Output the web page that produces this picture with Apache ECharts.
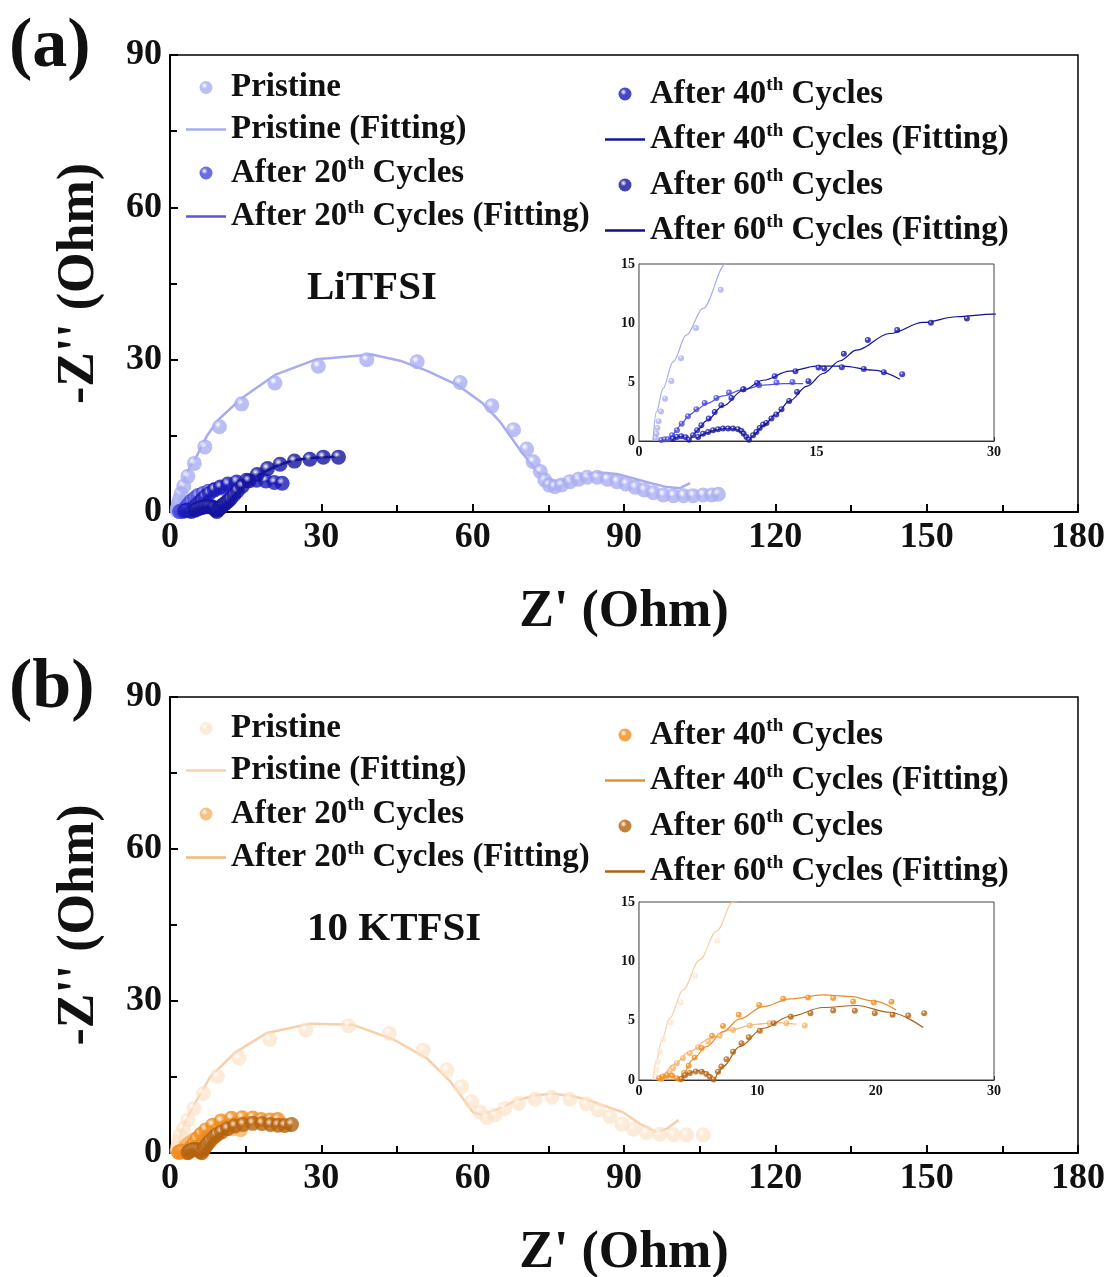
<!DOCTYPE html>
<html><head><meta charset="utf-8">
<script src="https://cdn.jsdelivr.net/npm/echarts@6/dist/echarts.min.js"></script>
<style>html,body{margin:0;padding:0;background:#fff}#c{width:1114px;height:1277px}</style>
</head><body><div id="c"></div><script>
// ---------------- DATA ----------------
const SERIES_NAMES = ['Pristine', 'After 20th Cycles', 'After 40th Cycles', 'After 60th Cycles'];
const PANEL_LABELS = ['(a)', '(b)'];
const ELECTROLYTES = ['LiTFSI', '10 KTFSI'];
const MAIN_X_TICKS = [0, 30, 60, 90, 120, 150, 180];
const MAIN_Y_TICKS = [0, 30, 60, 90];

// Panel (a) LiTFSI - measured points
const A_PRISTINE = [[1.41,0.25],[1.47,0.62],[1.55,1.10],[1.66,1.67],[1.86,2.49],[2.2,3.59],[2.73,5.09],[3.55,7.02],[4.82,9.57],[6.91,12.82],[9.8,16.8],[14.2,21.3],[20.8,25.4],[29.4,28.7],[39.0,30.0],[49.0,29.6],[57.5,25.5],[63.8,20.9],[68.1,16.2],[70.7,12.4],[72.0,9.9],[73.4,8.0],[74.3,6.3],[75.2,5.3],[76.3,5.0],[77.6,5.33],[79.3,5.98],[81.0,6.45],[82.7,6.84],[84.7,6.84],[86.7,6.45],[88.6,5.98],[90.4,5.53],[92.2,4.87],[94.0,4.34],[95.8,3.81],[97.8,3.36],[99.8,3.22],[101.8,3.22],[103.7,3.22],[105.7,3.36],[107.4,3.36],[108.7,3.49]];
const A_C20 = [[1.89,0.08],[2.17,0.14],[2.45,0.14],[2.79,0.48],[3.21,0.91],[3.61,1.47],[4.14,2.09],[4.85,2.69],[5.55,3.23],[6.54,3.65],[7.61,4.10],[8.85,4.39],[10.15,4.73],[11.62,4.95],[12.97,5.01]];
const A_C40 = [[2.88,0.2],[3.21,0.34],[3.58,0.40],[3.95,0.31],[4.23,0.11],[4.57,0.48],[4.91,0.91],[5.27,1.33],[5.89,1.90],[6.40,2.46],[6.96,3.03],[7.81,3.65],[8.80,4.39],[9.98,4.92],[11.47,5.49],[13.22,5.92],[15.17,6.23],[17.14,6.26],[19.0,6.11],[20.69,5.83],[22.24,5.66]];
const A_C60 = [[5.0,0.34],[5.41,0.62],[5.84,0.76],[6.26,0.91],[6.68,0.99],[7.10,1.05],[7.53,1.05],[7.95,1.05],[8.37,0.99],[8.66,0.85],[8.85,0.62],[9.08,0.34],[9.30,0.11],[9.64,0.48],[9.92,0.76],[10.2,1.1],[10.49,1.39],[10.77,1.53],[11.19,1.9],[11.6,2.24],[12.04,2.69],[12.69,3.40],[13.36,4.16],[14.32,5.07],[15.65,6.14],[17.31,7.39],[19.34,8.55],[21.82,9.40],[24.67,10.02],[27.71,10.39],[30.4,10.8],[33.4,10.8]];
// Panel (a) fitting curves
const A_PRISTINE_FIT = [[1.18,0],[1.47,2.46],[2.03,4.44],[2.88,6.71],[4.0,8.97],[5.41,11.24],[7.33,15.0],[9.6,18.2],[14.2,22.4],[20.8,27.0],[29.1,30.1],[40,31.0],[45.6,29.8],[51,27.8],[57,25.0],[62,21.4],[65.4,17.8],[69.4,12.2],[72.0,8.9],[74.0,6.6],[76.0,6.0],[78.6,6.3],[81.9,7.3],[85.2,7.8],[88.6,7.5],[91.9,6.6],[95.2,5.7],[98.5,4.9],[101.1,4.7],[103.1,5.7]];
const A_C20_FIT = [[1.85,0],[2.2,0.15],[2.6,0.2],[2.85,0.5],[3.2,1.0],[3.6,1.5],[4.29,2.24],[5.0,2.75],[5.69,3.17],[7.1,3.82],[8.8,4.36],[10.49,4.73],[12.18,4.87],[13.87,4.87]];
const A_C40_FIT = [[2.8,0],[3.0,0.25],[3.4,0.4],[3.8,0.38],[4.2,0.15],[4.35,0.2],[4.6,0.55],[5.0,1.0],[5.69,1.70],[7.10,2.97],[8.8,4.30],[10.49,5.15],[12.74,5.92],[15.0,6.34],[17.25,6.34],[19.79,6.0],[22.05,5.24]];
const A_C60_FIT = [[4.85,0.2],[5.2,0.45],[5.7,0.68],[6.4,0.92],[7.1,1.05],[7.8,1.07],[8.4,0.97],[8.94,0.48],[9.3,0.11],[9.7,0.55],[10.49,1.27],[11.6,2.3],[12.74,3.40],[14.2,4.65],[15.56,5.72],[17.0,6.8],[18.38,7.70],[21.2,9.11],[24.02,10.05],[26.84,10.53],[29.94,10.76],[33.5,10.9]];

// Panel (b) 10 KTFSI - measured points
const B_PRISTINE = [[1.38,0.28],[1.47,0.84],[1.61,1.55],[1.75,2.39],[2.03,3.43],[2.68,4.84],[3.52,6.53],[4.74,8.78],[6.63,11.74],[9.4,15.1],[13.7,18.7],[19.8,22.4],[26.9,24.3],[35.4,25.1],[43.5,23.6],[50.2,20.3],[54.9,16.4],[57.8,13.1],[59.8,10.1],[61.5,8.1],[62.8,7.0],[64.4,7.5],[66.4,8.8],[69.1,9.8],[72.4,10.6],[75.7,11.0],[79.3,10.6],[82.6,9.7],[84.9,8.5],[87.2,7.2],[89.6,5.7],[91.9,4.7],[94.5,4.0],[97.1,3.7],[99.8,3.6],[102.4,3.6],[105.7,3.6]];
const B_C20 = [[1.89,0.08],[2.31,0.28],[2.59,0.56],[2.88,0.99],[3.21,1.41],[3.72,1.83],[4.29,2.25],[4.99,2.76],[5.84,3.24],[6.82,3.72],[7.95,4.22],[9.36,4.59],[11.05,4.78],[12.46,4.78],[14.01,4.59]];
const B_C40 = [[1.7,0.15],[2.0,0.3],[2.4,0.4],[2.8,0.35],[3.2,0.15],[3.5,0.05],[3.8,0.6],[4.2,1.2],[4.7,1.9],[5.3,2.7],[6.17,3.72],[7.1,4.56],[8.43,5.49],[10.15,6.33],[12.18,6.84],[14.29,6.95],[16.41,6.9],[18.1,6.61],[19.85,6.53],[21.34,6.59]];
const B_C60 = [[3.6,0.1],[3.9,0.4],[4.3,0.6],[4.8,0.72],[5.3,0.7],[5.7,0.5],[6.0,0.25],[6.3,0.05],[6.68,0.7],[6.96,1.13],[7.39,1.75],[7.95,2.39],[8.66,3.1],[9.28,3.6],[10.21,4.14],[11.39,4.78],[12.83,5.32],[14.49,5.63],[16.41,5.85],[18.24,5.83],[19.93,5.63],[21.43,5.49],[22.75,5.43],[24.1,5.63]];
// Panel (b) fitting curves
const B_PRISTINE_FIT = [[1.18,0],[1.47,1.55],[1.89,3.24],[2.59,5.21],[3.72,7.6],[5.13,10.13],[6.54,12.52],[7.95,15.0],[12.9,19.8],[19.2,23.7],[27.8,25.5],[36.3,25.3],[44.3,22.4],[50.9,18.7],[55.5,14.2],[60.1,8.0],[62.1,7.5],[65.4,8.8],[68.7,10.4],[72.7,11.4],[76.0,11.7],[80.0,11.2],[83.9,10.1],[89.9,8.0],[93.2,5.7],[96.5,4.1],[98.5,4.8],[100.8,6.5]];
const B_C20_FIT = [[1.47,0],[2.0,0.4],[2.88,1.27],[4.29,2.39],[5.98,3.52],[7.67,4.22],[9.92,4.7],[11.62,4.84],[13.31,4.7]];
const B_C40_FIT = [[1.6,0],[2.0,0.3],[2.5,0.42],[3.0,0.3],[3.4,0.05],[3.8,0.6],[4.5,1.7],[5.7,2.81],[7.1,4.08],[8.51,5.15],[10.49,6.19],[12.74,6.84],[15.56,7.18],[17.82,7.04],[19.79,6.67],[21.71,5.91]];
const B_C60_FIT = [[3.5,0],[3.9,0.4],[4.29,0.62],[4.8,0.78],[5.41,0.75],[5.9,0.45],[6.32,0],[6.7,0.6],[7.1,1.13],[8.51,2.81],[10.49,4.36],[12.74,5.35],[15.56,6.11],[18.38,6.28],[21.2,5.71],[24.02,4.42]];

// ---------------- STYLE ----------------
const FONT = 'Liberation Serif';
const A_DOT = ['#a9aef2', '#4848dc', '#1a1ab8', '#13139e'];
const A_LINE = ['#a8acef', '#5656e0', '#16169a', '#10108a'];
const B_DOT = ['rgba(251,224,196,0.8)', '#f6b265', '#f08c1e', '#b5620e'];
const B_LINE = ['#f5d0aa', '#f2b878', '#e98f2e', '#a86418'];

function sphere(c) {
  return {type: 'radial', x: 0.38, y: 0.35, r: 0.7,
    colorStops: [{offset: 0, color: '#ffffff'}, {offset: 0.35, color: c}, {offset: 1, color: c}]};
}

const panels = [
  {key: 'a', dots: [A_PRISTINE, A_C20, A_C40, A_C60], fits: [A_PRISTINE_FIT, A_C20_FIT, A_C40_FIT, A_C60_FIT], dc: A_DOT, lc: A_LINE, main: 0, inset: 1},
  {key: 'b', dots: [B_PRISTINE, B_C20, B_C40, B_C60], fits: [B_PRISTINE_FIT, B_C20_FIT, B_C40_FIT, B_C60_FIT], dc: B_DOT, lc: B_LINE, main: 2, inset: 3}
];

const series = [];
panels.forEach(p => {
  for (let i = 0; i < 4; i++) {
    series.push({name: p.key + '-' + SERIES_NAMES[i], type: 'scatter', xAxisIndex: p.main, yAxisIndex: p.main,
      data: p.dots[i], symbolSize: 15, itemStyle: {color: sphere(p.dc[i])}, z: 3});
    series.push({name: p.key + '-' + SERIES_NAMES[i] + ' (Fitting)', type: 'line', xAxisIndex: p.main, yAxisIndex: p.main,
      data: p.fits[i], smooth: false, symbol: 'none',
      lineStyle: {color: p.lc[i], width: 2.5}, itemStyle: {color: p.lc[i]}, z: 3});
  }
  for (let i = 0; i < 4; i++) {
    series.push({name: p.key + 'i-' + SERIES_NAMES[i], type: 'scatter', xAxisIndex: p.inset, yAxisIndex: p.inset,
      data: p.dots[i], symbolSize: 6, itemStyle: {color: sphere(p.dc[i])}, z: 5});
    series.push({name: p.key + 'i-' + SERIES_NAMES[i] + ' (Fitting)', type: 'line', xAxisIndex: p.inset, yAxisIndex: p.inset,
      data: p.fits[i], smooth: 0.35, smoothMonotone: 'x', symbol: 'none',
      lineStyle: {color: p.lc[i], width: 1.2}, itemStyle: {color: p.lc[i]}, z: 5});
  }
});

function fmt(name) {
  const t = name.slice(2);
  const m = t.match(/^(.*?\d+)th(.*)$/);
  if (m) return '{n|' + m[1] + '}{s|th}{n|' + m[2] + '}';
  return '{n|' + t + '}';
}
const LINE_ICON = 'path://M0,0L40,0L40,2.5L0,2.5Z';
function legend(key, idxs, left, top, gap) {
  const data = [];
  idxs.forEach(i => {
    data.push({name: key + '-' + SERIES_NAMES[i], icon: 'circle'});
    data.push({name: key + '-' + SERIES_NAMES[i] + ' (Fitting)', icon: LINE_ICON});
  });
  return {orient: 'vertical', left: left, top: top, itemWidth: 40, itemHeight: 13, itemGap: gap,
    selectedMode: false, data: data, formatter: fmt,
    textStyle: {rich: {
      n: {fontFamily: FONT, fontWeight: 'bold', fontSize: 33, color: '#111', lineHeight: 36},
      s: {fontFamily: FONT, fontWeight: 'bold', fontSize: 19, color: '#111', lineHeight: 20, verticalAlign: 'top'}
    }}};
}

function mainX(gi) {
  return {type: 'value', gridIndex: gi, min: 0, max: 180, interval: 30,
    name: "Z' (Ohm)", nameLocation: 'middle', nameGap: 75,
    nameTextStyle: {fontFamily: FONT, fontWeight: 'bold', fontSize: 52, color: '#111'},
    axisLine: {lineStyle: {color: '#000', width: 2}},
    axisTick: {inside: true, length: 8, lineStyle: {color: '#000', width: 2}},
    minorTick: {show: true, splitNumber: 2, length: 7, lineStyle: {color: '#000', width: 2}},
    axisLabel: {fontFamily: FONT, fontWeight: 'bold', fontSize: 36, color: '#111', margin: 8},
    splitLine: {show: false}};
}
function mainY(gi) {
  return {type: 'value', gridIndex: gi, min: 0, max: 90, interval: 30,
    name: "-Z'' (Ohm)", nameLocation: 'middle', nameGap: 64, nameRotate: 90,
    nameTextStyle: {fontFamily: FONT, fontWeight: 'bold', fontSize: 52, color: '#111'},
    axisLine: {lineStyle: {color: '#000', width: 2}},
    axisTick: {inside: true, length: 8, lineStyle: {color: '#000', width: 2}},
    minorTick: {show: true, splitNumber: 2, length: 7, lineStyle: {color: '#000', width: 2}},
    axisLabel: {fontFamily: FONT, fontWeight: 'bold', fontSize: 36, color: '#111', margin: 8},
    splitLine: {show: false}};
}
function insetX(gi, interval) {
  return {type: 'value', gridIndex: gi, min: 0, max: 30, interval: interval,
    axisLine: {lineStyle: {color: '#222', width: 1.2}},
    axisTick: {inside: true, length: 4, lineStyle: {color: '#222'}},
    axisLabel: {fontFamily: FONT, fontWeight: 'bold', fontSize: 14, color: '#111', margin: 4},
    splitLine: {show: false}};
}
function insetY(gi) {
  return {type: 'value', gridIndex: gi, min: 0, max: 15, interval: 5,
    axisLine: {lineStyle: {color: '#222', width: 1.2}},
    axisTick: {inside: true, length: 4, lineStyle: {color: '#222'}},
    minorTick: {show: true, splitNumber: 2, length: 3, lineStyle: {color: '#222'}},
    axisLabel: {fontFamily: FONT, fontWeight: 'bold', fontSize: 14, color: '#111', margin: 4},
    splitLine: {show: false}};
}

const option = {
  animation: false,
  backgroundColor: '#fff',
  grid: [
    {left: 170, top: 55, width: 908, height: 457, show: true, borderColor: '#000', borderWidth: 1.5, backgroundColor: 'transparent', outerBoundsMode: 'none', containLabel: false},
    {left: 639, top: 264, width: 355, height: 177, show: true, borderColor: '#444', borderWidth: 1, backgroundColor: '#fff', z: 4, outerBoundsMode: 'none', containLabel: false},
    {left: 170, top: 697, width: 908, height: 456, show: true, borderColor: '#000', borderWidth: 1.5, backgroundColor: 'transparent', outerBoundsMode: 'none', containLabel: false},
    {left: 639, top: 902, width: 355, height: 178, show: true, borderColor: '#444', borderWidth: 1, backgroundColor: '#fff', z: 4, outerBoundsMode: 'none', containLabel: false}
  ],
  xAxis: [mainX(0), insetX(1, 15), mainX(2), insetX(3, 10)],
  yAxis: [mainY(0), insetY(1), mainY(2), insetY(3)],
  legend: [
    legend('a', [0, 1], 181, 66, 9),
    legend('a', [2, 3], 600, 71, 11),
    legend('b', [0, 1], 181, 707, 9),
    legend('b', [2, 3], 600, 712, 11)
  ],
  graphic: [
    {type: 'text', left: 9, top: 13, style: {text: PANEL_LABELS[0], font: 'bold 70px "Liberation Serif"', fill: '#111'}},
    {type: 'text', left: 9, top: 654, style: {text: PANEL_LABELS[1], font: 'bold 70px "Liberation Serif"', fill: '#111'}},
    {type: 'text', left: 307, top: 268, style: {text: ELECTROLYTES[0], font: 'bold 41px "Liberation Serif"', fill: '#111'}},
    {type: 'text', left: 307, top: 909, style: {text: ELECTROLYTES[1], font: 'bold 41px "Liberation Serif"', fill: '#111'}}
  ],
  series: series
};

const chart = echarts.init(document.getElementById('c'), null, {renderer: 'canvas'});
chart.setOption(option);
</script></body></html>
